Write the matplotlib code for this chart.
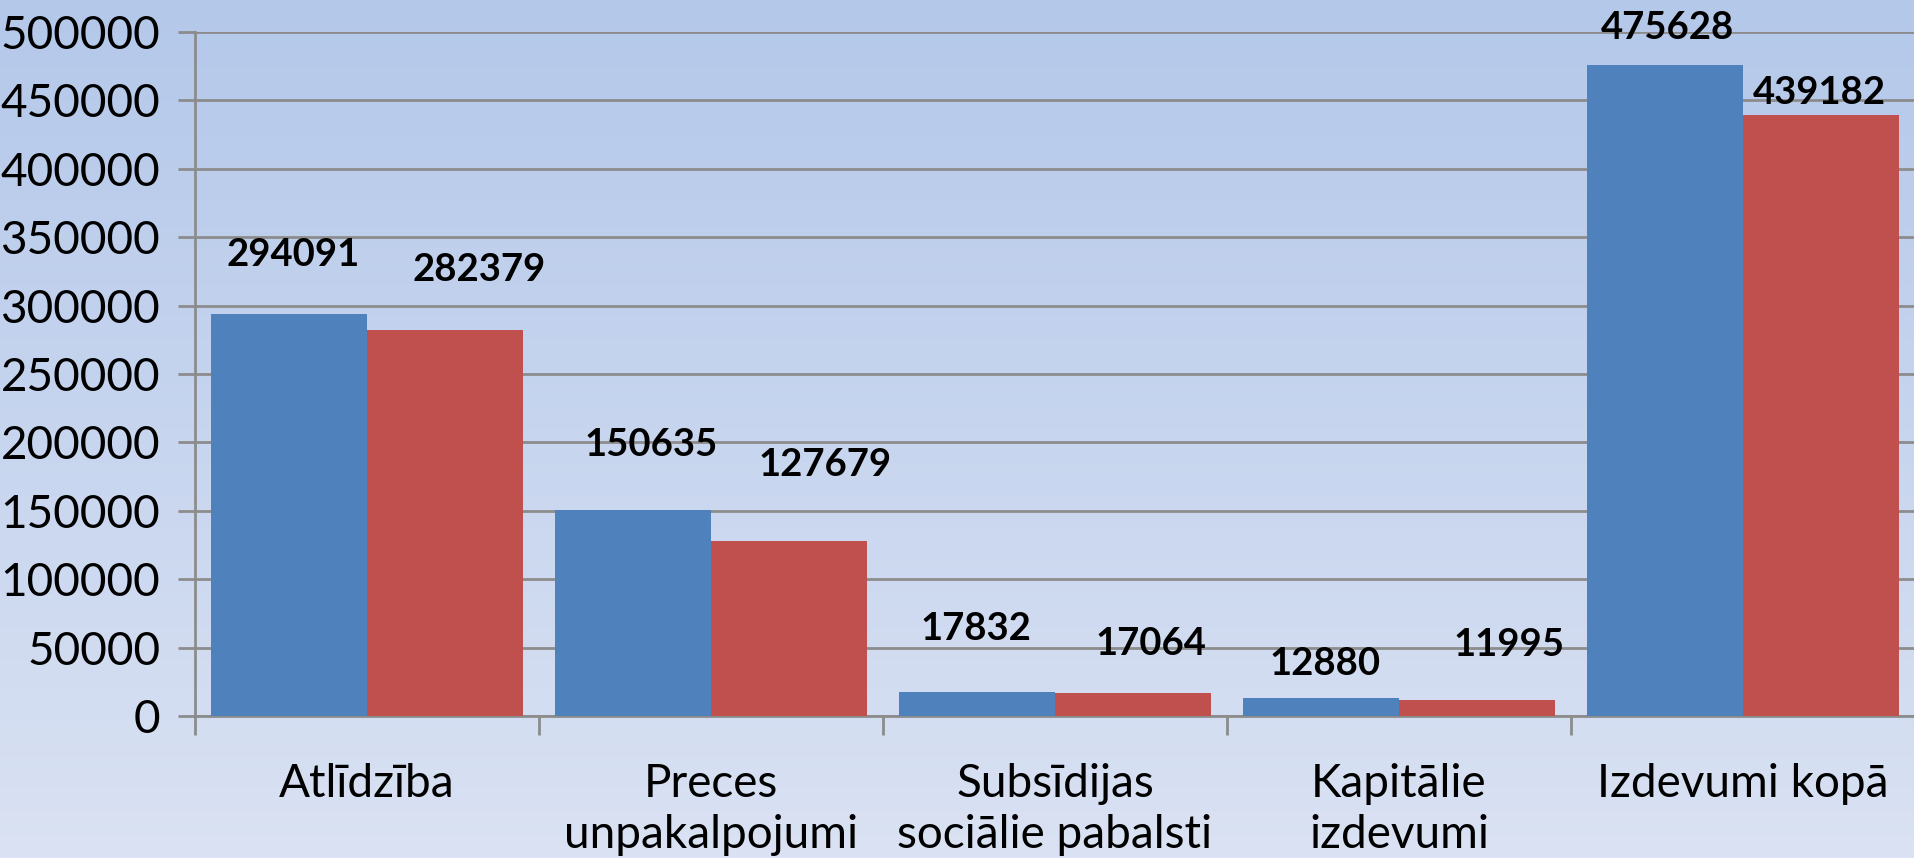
#!/usr/bin/env python3
"""Grouped bar chart of expenditure by category, two series."""

import matplotlib

matplotlib.use("Agg")
import matplotlib.pyplot as plt
import numpy as np

CATEGORIES = [
    "Atlīdzība",
    "Preces\nunpakalpojumi",
    "Subsīdijas\nsociālie pabalsti",
    "Kapitālie\nizdevumi",
    "Izdevumi kopā",
]
SERIES_A = [294091, 150635, 17832, 12880, 475628]
SERIES_B = [282379, 127679, 17064, 11995, 439182]
Y_TICKS = [0, 50000, 100000, 150000, 200000, 250000, 300000, 350000, 400000, 450000, 500000]

# label offsets in points (dx, dy above bar top), per series
OFFSETS_A = [(3, 42), (13, 47), (-1, 45), (3, 25), (2, 27)]
OFFSETS_B = [(25, 43), (26, 55), (13, 35), (23, 39), (-1, 16)]

BLUE = "#4f81bd"
RED = "#c0504d"
GRID = "#8c8c8c"

plt.rcParams["font.family"] = ["Lato", "DejaVu Sans"]

W, H, DPI = 1915, 858, 100
fig = plt.figure(figsize=(W / DPI, H / DPI), dpi=DPI)

# background gradient
bg = fig.add_axes([0, 0, 1, 1], zorder=-10)
top = np.array([180, 200, 234]) / 255
bottom = np.array([218, 226, 243]) / 255
t = np.linspace(0, 1, 256)[:, None]
grad = top[None, :] * (1 - t) + bottom[None, :] * t
bg.imshow(grad[:, None, :], aspect="auto", extent=[0, 1, 0, 1])
bg.axis("off")

ax = fig.add_axes([195 / W, 1 - 716 / H, 1 - 195 / W, (716 - 32) / H])
ax.set_facecolor("none")

x = np.arange(len(CATEGORIES))
w = 0.4525
bars_a = ax.bar(x - w / 2, SERIES_A, w, color=BLUE, zorder=3)
bars_b = ax.bar(x + w / 2, SERIES_B, w, color=RED, zorder=3)

for bars, vals, offs in [(bars_a, SERIES_A, OFFSETS_A), (bars_b, SERIES_B, OFFSETS_B)]:
    for b, v, (dx, dy) in zip(bars, vals, offs):
        ax.annotate(
            f"{v}",
            (b.get_x() + b.get_width() / 2, v),
            xytext=(dx, dy),
            textcoords="offset points",
            ha="center",
            va="center",
            fontsize=27.5,
            fontweight="bold",
            color="black",
            zorder=5,
        )

ax.set_xlim(-0.5, len(CATEGORIES) - 0.5)
ax.set_ylim(0, 500000)
ax.set_yticks(Y_TICKS)
ax.set_yticklabels([str(v) for v in Y_TICKS])
ax.yaxis.grid(True, color=GRID, linewidth=2, zorder=0)
ax.tick_params(axis="y", length=12, width=2, color=GRID, labelsize=33, pad=13)

ax.set_xticks(x)
ax.set_xticklabels(CATEGORIES, linespacing=1.25)
ax.set_xticks(np.arange(len(CATEGORIES) + 1) - 0.5, minor=True)
ax.tick_params(axis="x", which="major", length=0, labelsize=33, pad=34)
ax.tick_params(axis="x", which="minor", length=14, width=2, color=GRID)

for side in ["top", "right"]:
    ax.spines[side].set_visible(False)
for side in ["left", "bottom"]:
    ax.spines[side].set_color(GRID)
    ax.spines[side].set_linewidth(2)

fig.savefig("out.png", dpi=DPI)
